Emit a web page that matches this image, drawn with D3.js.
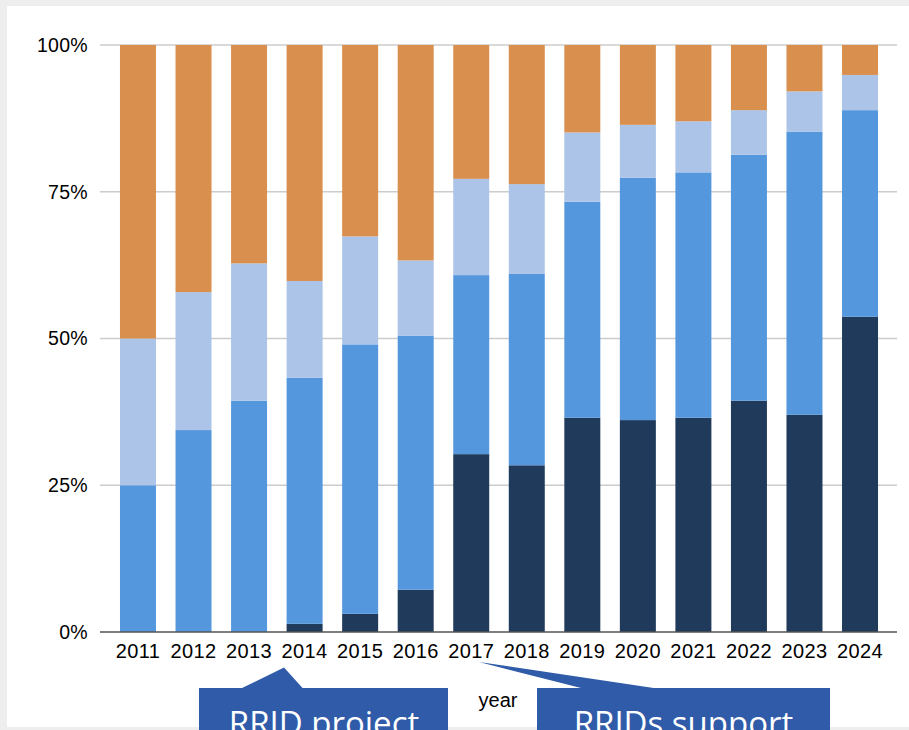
<!DOCTYPE html>
<html>
<head>
<meta charset="utf-8">
<script src="https://cdn.jsdelivr.net/npm/d3@7"></script>
<style>
  html, body { margin: 0; padding: 0; background: #eeeeee; }
  svg { display: block; }
</style>
</head>
<body>
<svg id="chart" width="909" height="730"></svg>
<script>
// Share of articles per year by category (percent of total, stacked bottom to top)
const years = ["2011","2012","2013","2014","2015","2016","2017","2018","2019","2020","2021","2022","2023","2024"];
const seriesKeys = ["s1", "s2", "s3", "s4"];
const s1 = [0, 0, 0, 1.4, 3.1, 7.2, 30.3, 28.4, 36.5, 36.1, 36.5, 39.4, 37.0, 53.7];
const s2 = [25.0, 34.4, 39.4, 41.9, 45.9, 43.3, 30.5, 32.6, 36.8, 41.3, 41.8, 41.9, 48.2, 35.2];
const s3 = [25.0, 23.5, 23.4, 16.5, 18.4, 12.8, 16.4, 15.3, 11.8, 9.0, 8.7, 7.6, 6.9, 6.0];
const s4 = years.map((_, i) => +(100 - s1[i] - s2[i] - s3[i]).toFixed(1));
const colors = ["#1f3a5a", "#5597dd", "#abc4e8", "#d98f4e"];
const yTicks = [0, 25, 50, 75, 100];

const table = years.map((y, i) => ({ year: y, s1: s1[i], s2: s2[i], s3: s3[i], s4: s4[i] }));

const svg = d3.select("#chart");

// white panel inside the grey frame
svg.append("rect").attr("x", 7).attr("y", 6).attr("width", 902).attr("height", 721).attr("fill", "#ffffff");

const x = d3.scaleBand().domain(years).range([110.2, 887.8]).paddingInner(0.352).paddingOuter(0.176);
const y = d3.scaleLinear().domain([0, 100]).range([632, 45]);

// gridlines
const grid = svg.append("g");
grid.selectAll("line").data(yTicks.filter(t => t > 0)).join("line")
  .attr("x1", 100).attr("x2", 897)
  .attr("y1", d => y(d)).attr("y2", d => y(d))
  .attr("stroke", "#cccccc").attr("stroke-width", 1.3);

// stacked bars
const stack = d3.stack().keys(seriesKeys)(table);
svg.append("g").selectAll("g").data(stack).join("g")
  .attr("fill", (d, i) => colors[i])
  .selectAll("rect").data(d => d).join("rect")
  .attr("x", d => x(d.data.year))
  .attr("width", x.bandwidth())
  .attr("y", d => y(d[1]))
  .attr("height", d => y(d[0]) - y(d[1]));

// baseline
svg.append("line").attr("x1", 100).attr("x2", 897).attr("y1", y(0)).attr("y2", y(0))
  .attr("stroke", "#555555").attr("stroke-width", 1.3);

// y axis labels
const yAxis = d3.axisLeft(y).tickValues(yTicks).tickFormat(d => d + "%").tickSize(0).tickPadding(0);
const ya = svg.append("g").attr("transform", "translate(88,0)").call(yAxis);
ya.select(".domain").remove();
ya.selectAll("text")
  .attr("font-family", "'Liberation Sans', Arial, sans-serif")
  .attr("font-size", 19.5).attr("fill", "#000000")
  .attr("letter-spacing", 0.3);

// x axis labels
const xAxis = d3.axisBottom(x).tickSize(0).tickPadding(0);
const xa = svg.append("g").attr("transform", "translate(0,644)").call(xAxis);
xa.select(".domain").remove();
xa.selectAll("text")
  .attr("font-family", "'Liberation Sans', Arial, sans-serif")
  .attr("font-size", 20).attr("fill", "#000000")
  .attr("letter-spacing", 0.4)
  .attr("dy", "0.7em");

// axis title
svg.append("text").attr("x", 498).attr("y", 707).attr("text-anchor", "middle")
  .attr("font-family", "'Liberation Sans', Arial, sans-serif").attr("font-size", 20)
  .attr("fill", "#000000").text("year");

// callouts
const calloutColor = "#2f5ba8";
const callouts = svg.append("g").attr("fill", calloutColor);
callouts.append("polygon").attr("points", "241,688.5 284,667.5 303,688.5");
callouts.append("rect").attr("x", 199).attr("y", 688).attr("width", 249).attr("height", 50);
callouts.append("polygon").attr("points", "583,688.5 479,662 657,688.5");
callouts.append("rect").attr("x", 537).attr("y", 688).attr("width", 293).attr("height", 50);

svg.append("text").attr("x", 324).attr("y", 735).attr("text-anchor", "middle")
  .attr("font-family", "'Open Sans', sans-serif").attr("font-size", 33)
  .attr("fill", "#ffffff").text("RRID project");
svg.append("text").attr("x", 683.5).attr("y", 735).attr("text-anchor", "middle")
  .attr("font-family", "'Open Sans', sans-serif").attr("font-size", 33)
  .attr("fill", "#ffffff").text("RRIDs support");
</script>
</body>
</html>
